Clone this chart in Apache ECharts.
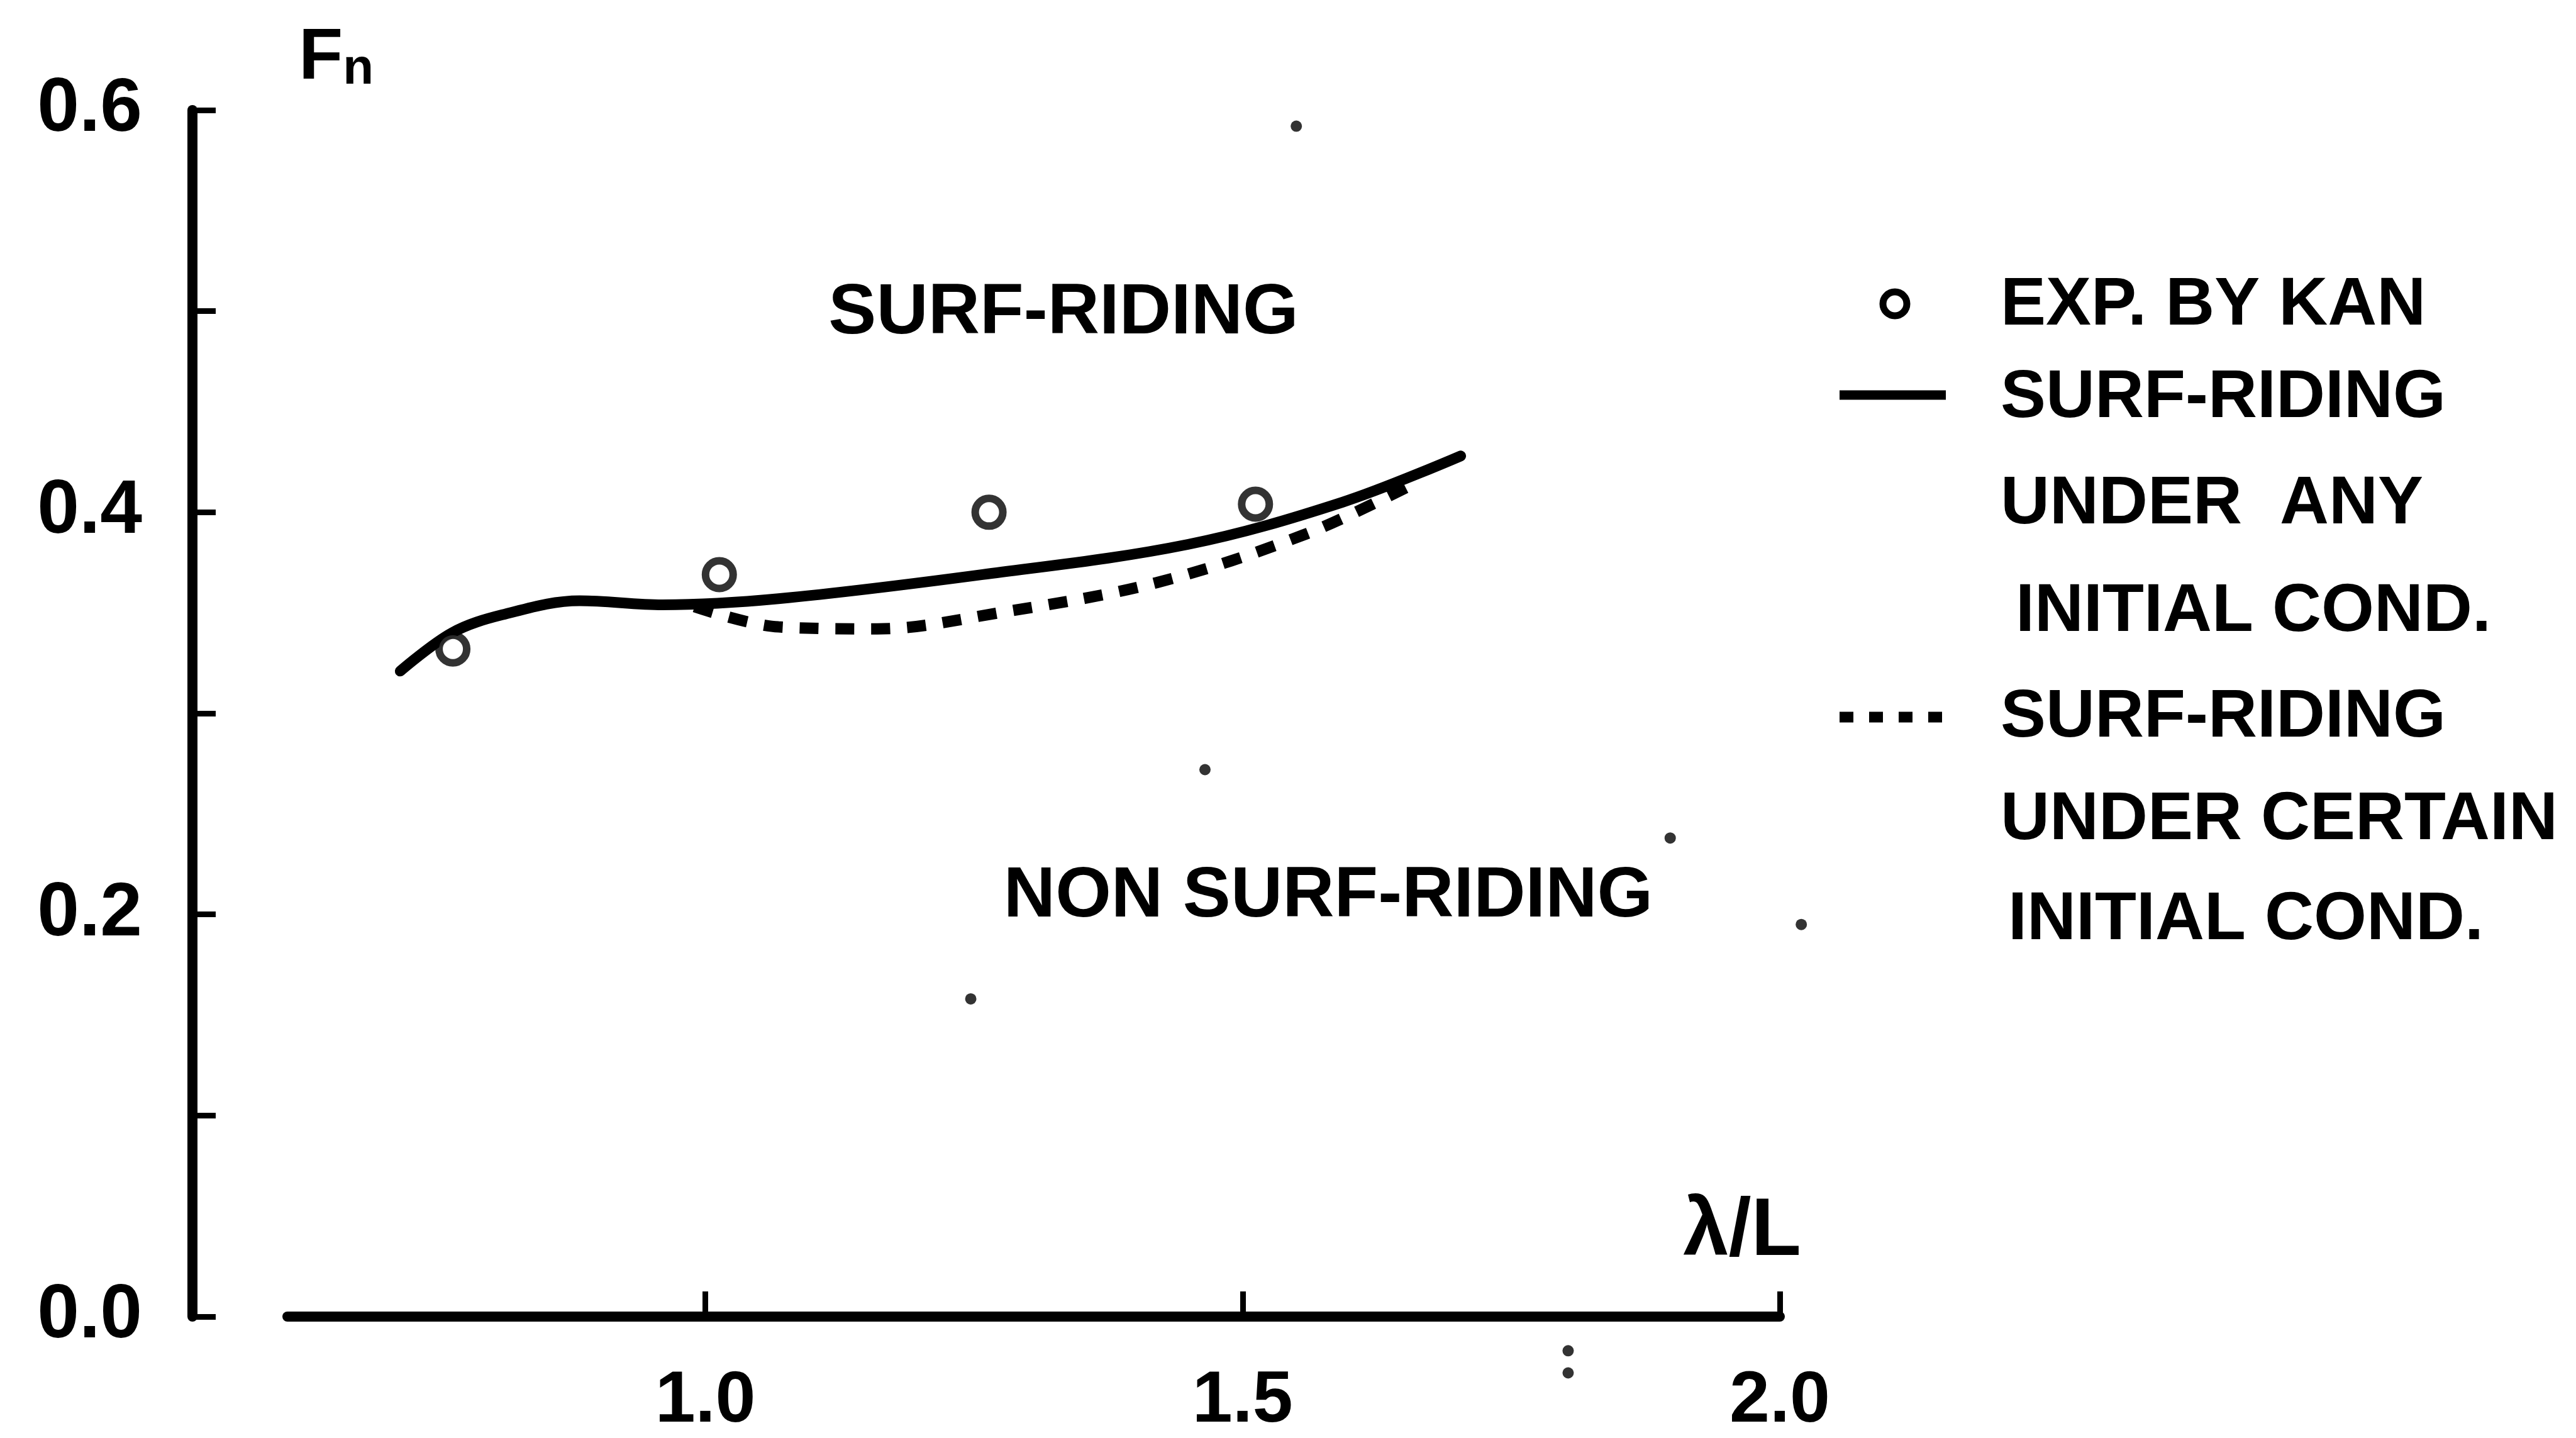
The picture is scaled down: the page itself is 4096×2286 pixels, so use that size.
<!DOCTYPE html>
<html><head><meta charset="utf-8">
<script src="https://cdn.jsdelivr.net/npm/echarts@6/dist/echarts.min.js"></script>
<style>html,body{margin:0;padding:0;background:#fff}#c{width:4096px;height:2286px}</style>
</head><body><div id="c"></div>
<script>
// ---- data ----
const xTickValues = [1.0, 1.5, 2.0];
const yLabelValues = [0.0, 0.2, 0.4, 0.6];
const expLambda = [0.765, 1.013, 1.264, 1.512];
const expFn = [0.332, 0.369, 0.400, 0.404];
const anyLambda = [0.716, 0.764, 0.811, 0.883, 0.960, 1.068, 1.258, 1.449, 1.593, 1.703];
const anyFn = [0.321, 0.340, 0.349, 0.356, 0.354, 0.357, 0.369, 0.384, 0.405, 0.428];
const certainLambda = [0.990, 1.068, 1.160, 1.273, 1.420, 1.558, 1.655];
const certainFn = [0.353, 0.343, 0.342, 0.350, 0.365, 0.389, 0.413];
const speckLambda = [1.550, 1.465, 1.898, 2.020, 1.247, 1.803, 1.803];
const speckFn = [0.592, 0.272, 0.238, 0.195, 0.158, -0.017, -0.028];
const regionLabels = ['SURF-RIDING', 'NON SURF-RIDING'];
const legendExp = 'EXP. BY KAN';
const legendAny = ['SURF-RIDING', 'UNDER  ANY', 'INITIAL COND.'];
const legendCertain = ['SURF-RIDING', 'UNDER CERTAIN', 'INITIAL COND.'];

const zip = (a, b) => a.map((v, i) => [v, b[i]]);
const FONT = '"Liberation Sans", Arial, sans-serif';
const INK = '#000';

const chart = echarts.init(document.getElementById('c'), null, {renderer: 'canvas'});

function txt(text, x, y, size, align) {
  return {type: 'text', silent: true, style: {text, x, y, fill: INK, font: 'bold ' + size + 'px ' + FONT, textAlign: align || 'left', textVerticalAlign: 'middle'}};
}

const option = {
  backgroundColor: '#fff',
  animation: false,
  grid: {left: 457, right: 1266, top: 175, bottom: 183, containLabel: false},
  xAxis: {
    type: 'value', min: 0.611, max: 2.0,
    name: 'λ/L', nameLocation: 'end', nameGap: 34,
    nameTextStyle: {color: INK, fontFamily: FONT, fontWeight: 'bold', fontSize: 130, align: 'right', verticalAlign: 'bottom', padding: [0, 0, 69, 0]},
    axisLine: {show: true, lineStyle: {color: INK, width: 16}},
    axisTick: {show: true, inside: true, length: 40, customValues: xTickValues, lineStyle: {color: INK, width: 9}},
    axisLabel: {customValues: xTickValues, formatter: v => v.toFixed(1), margin: 78, color: INK, fontFamily: FONT, fontWeight: 'bold', fontSize: 115},
    splitLine: {show: false}
  },
  yAxis: {
    type: 'value', min: 0, max: 0.6, interval: 0.1, offset: 151,
    name: '{f|F}{n|n}', nameLocation: 'end', nameGap: 24,
    nameTextStyle: {align: 'left', verticalAlign: 'bottom', padding: [0, 0, 0, 169],
      rich: {f: {fontFamily: FONT, fontWeight: 'bold', fontSize: 115, color: INK, verticalAlign: 'bottom', lineHeight: 104},
             n: {fontFamily: FONT, fontWeight: 'bold', fontSize: 80, color: INK, verticalAlign: 'bottom', lineHeight: 104}}},
    axisLine: {show: true, lineStyle: {color: INK, width: 16}},
    axisTick: {show: true, inside: true, length: 37, lineStyle: {color: INK, width: 9}},
    axisLabel: {customValues: yLabelValues, formatter: v => v.toFixed(1), margin: 80, color: INK, fontFamily: FONT, fontWeight: 'bold', fontSize: 120},
    splitLine: {show: false}
  },
  series: [
    {name: 'SURF-RIDING UNDER ANY INITIAL COND.', type: 'line', data: zip(anyLambda, anyFn), smooth: 0.35, showSymbol: false, lineStyle: {color: INK, width: 17, cap: 'round'}, silent: true},
    {name: 'SURF-RIDING UNDER CERTAIN INITIAL COND.', type: 'line', data: zip(certainLambda, certainFn), smooth: 0.35, showSymbol: false, lineStyle: {color: INK, width: 18, type: [30, 27]}, silent: true},
    {name: 'EXP. BY KAN', type: 'scatter', data: zip(expLambda, expFn), symbol: 'circle', symbolSize: 44, itemStyle: {color: '#fff', borderColor: INK, borderWidth: 12}, z: 5},
    {name: 'specks', type: 'scatter', data: zip(speckLambda, speckFn), symbol: 'circle', symbolSize: 18, itemStyle: {color: INK}, clip: false, silent: true}
  ],
  graphic: [
    txt(regionLabels[0], 1691, 499, 114, 'center'),
    txt(regionLabels[1], 2112, 1426, 114, 'center'),
    {type: 'circle', silent: true, shape: {cx: 3013, cy: 483, r: 19}, style: {fill: '#fff', stroke: INK, lineWidth: 11}},
    txt(legendExp, 3181, 486, 108),
    {type: 'line', silent: true, shape: {x1: 2925, y1: 628, x2: 3094, y2: 628}, style: {stroke: INK, lineWidth: 15}},
    txt(legendAny[0], 3181, 633, 108),
    txt(legendAny[1], 3181, 802, 108),
    txt(legendAny[2], 3205, 973, 108),
    {type: 'line', silent: true, shape: {x1: 2925, y1: 1140, x2: 3088, y2: 1140}, style: {stroke: INK, lineWidth: 17, lineDash: [22, 25]}},
    txt(legendCertain[0], 3181, 1141, 108),
    txt(legendCertain[1], 3181, 1304, 108),
    txt(legendCertain[2], 3193, 1463, 108)
  ]
};
chart.setOption(option);
</script></body></html>
